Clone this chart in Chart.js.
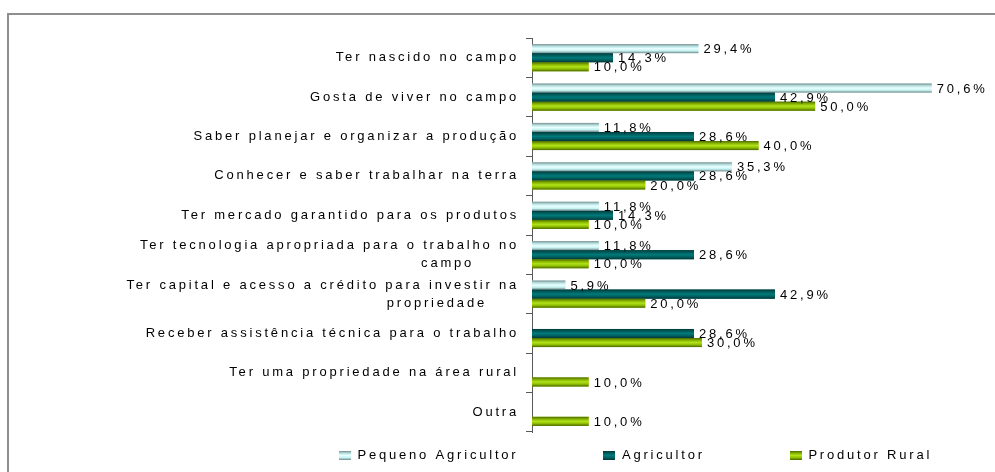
<!DOCTYPE html>
<html>
<head>
<meta charset="utf-8">
<script src="https://cdn.jsdelivr.net/npm/chart.js@4.4.1/dist/chart.umd.min.js"></script>
<style>
  html, body { margin: 0; padding: 0; background: #fff; }
  #wrap { position: relative; width: 995px; height: 472px; overflow: hidden; }
  #frame { position: absolute; left: 7px; top: 13px; width: 1100px; height: 600px;
           border-top: 2px solid #8e8e8e; border-left: 2px solid #8e8e8e; }
  #myChart { position: absolute; left: 0; top: 0; }
</style>
</head>
<body>
<div id="wrap">
  <div id="frame"></div>
  <canvas id="myChart" width="995" height="472"></canvas>
</div>
<script>
// trailing spaces on the wrapped lines pull them left like in the original
var categories = [
  "Ter nascido no campo",
  "Gosta de viver no campo",
  "Saber planejar e organizar a produção",
  "Conhecer e saber trabalhar na terra",
  "Ter mercado garantido para os produtos",
  ["Ter tecnologia apropriada para o trabalho no", "campo       "],
  ["Ter capital e acesso a crédito para investir na", "propriedade     "],
  "Receber assistência técnica para o trabalho",
  "Ter uma propriedade na área rural",
  "Outra"
]
var seriesNames = ["Pequeno Agricultor", "Agricultor", "Produtor Rural"]
var pequenoValues = [29.4, 70.6, 11.8, 35.3, 11.8, 11.8, 5.9, 0, 0, 0]
var agricultorValues = [14.3, 42.9, 28.6, 28.6, 14.3, 28.6, 42.9, 28.6, 0, 0]
var produtorValues = [10.0, 50.0, 40.0, 20.0, 10.0, 10.0, 20.0, 30.0, 10.0, 10.0]

var letterSpacing = "2.8px"
var fontFamily = "'Liberation Sans', Arial, sans-serif"

// cylinder-like shading of the bars, top to bottom
var barShades = [
  ["#7a8c8c", "#b5e0e0", "#eaffff", "#c4f2f2", "#728484"],
  ["#003a3a", "#005c5c", "#007a7a", "#005f5f", "#003636"],
  ["#4d6a00", "#86b400", "#b2e21a", "#8cbc00", "#4a6500"]
]
var baseColors = ["#ccffff", "#006666", "#99cc00"]

function fillShade(ctx, shades, x, y, w, h) {
    var g = ctx.createLinearGradient(0, y, 0, y + h)
    for (var i = 0; i < shades.length; i++) {
        g.addColorStop(i / (shades.length - 1), shades[i])
    }
    ctx.fillStyle = g
    ctx.fillRect(x, y, w, h)
}

// small swatches for the legend
var swatches = barShades.map(function (shades) {
    var c = document.createElement("canvas")
    c.width = 12
    c.height = 9
    fillShade(c.getContext("2d"), shades, 0, 0, 12, 9)
    return c
})

function formatPct(v) {
    return v.toFixed(1).replace(".", ",") + "%"
}

var spacingPlugin = {
    id: "spacing",
    beforeUpdate: function (chart) { chart.ctx.letterSpacing = letterSpacing },
    beforeLayout: function (chart) { chart.ctx.letterSpacing = letterSpacing },
    beforeDraw: function (chart) { chart.ctx.letterSpacing = letterSpacing }
}

var legendPadding = 85
var legendPlugin = {
    id: "legendPlace",
    afterLayout: function (chart) {
        var lg = chart.legend
        var w = lg.right - lg.left
        // start of first item and the vertical line of the legend row
        lg.left = 339 - legendPadding
        lg.right = lg.left + w
        lg.top = 449 - legendPadding
    }
}

var barPlugin = {
    id: "barLook",
    afterDatasetsDraw: function (chart) {
        var ctx = chart.ctx
        ctx.save()
        chart.data.datasets.forEach(function (ds, di) {
            var meta = chart.getDatasetMeta(di)
            meta.data.forEach(function (bar, i) {
                if (!ds.data[i]) return
                var p = bar.getProps(["x", "y", "base", "height"], true)
                fillShade(ctx, barShades[di], p.base, p.y - p.height / 2, p.x - p.base, p.height)
            })
        })
        ctx.font = "13px " + fontFamily
        ctx.letterSpacing = letterSpacing
        ctx.fillStyle = "#000"
        ctx.textAlign = "left"
        ctx.textBaseline = "middle"
        chart.data.datasets.forEach(function (ds, di) {
            var meta = chart.getDatasetMeta(di)
            meta.data.forEach(function (bar, i) {
                if (!ds.data[i]) return
                var p = bar.getProps(["x", "y"], true)
                ctx.fillText(formatPct(ds.data[i]), p.x + 5, p.y + 1)
            })
        })
        ctx.restore()
    }
}

var chart = new Chart("myChart", {
    type: "bar",
    data: {
        labels: categories,
        datasets: [{
            label: seriesNames[0],
            data: pequenoValues,
            backgroundColor: baseColors[0]
        }, {
            label: seriesNames[1],
            data: agricultorValues,
            backgroundColor: baseColors[1]
        }, {
            label: seriesNames[2],
            data: produtorValues,
            backgroundColor: baseColors[2]
        }]
    },
    options: {
        indexAxis: "y",
        responsive: false,
        animation: false,
        events: [],
        datasets: {
            bar: { categoryPercentage: 0.69, barPercentage: 1.0, borderWidth: 0 }
        },
        layout: { padding: { left: 0, right: 10, top: 38, bottom: 0 } },
        scales: {
            x: { display: false, min: 0, max: 80 },
            y: {
                afterFit: function (scale) { scale.width = 532 },
                border: { display: true, color: "#5a5a5a", width: 1 },
                grid: { drawOnChartArea: false, drawTicks: true, tickLength: 6, color: "#5a5a5a" },
                ticks: {
                    padding: 7,
                    color: "#000",
                    font: { family: fontFamily, size: 13, lineHeight: 1.4 }
                }
            }
        },
        plugins: {
            tooltip: { enabled: false },
            legend: {
                position: "bottom",
                align: "start",
                maxHeight: 40,
                labels: {
                    padding: legendPadding,
                    usePointStyle: true,
                    pointStyleWidth: 12,
                    color: "#000",
                    font: { family: fontFamily, size: 13 },
                    generateLabels: function (chart) {
                        var items = Chart.defaults.plugins.legend.labels.generateLabels(chart)
                        items.forEach(function (it, i) { it.pointStyle = swatches[i] })
                        return items
                    }
                }
            }
        }
    },
    plugins: [spacingPlugin, legendPlugin, barPlugin]
});
</script>
</body>
</html>
